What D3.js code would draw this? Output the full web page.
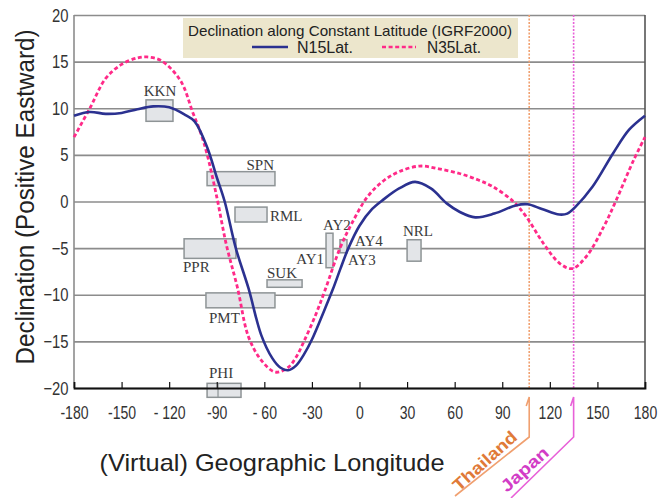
<!DOCTYPE html>
<html><head><meta charset="utf-8">
<script src="https://cdn.jsdelivr.net/npm/d3@7"></script>
<style>body{margin:0;background:#fff}svg{display:block}</style>
</head><body><svg id="c" width="658" height="498"></svg>
<script>
// ---------- data ----------
const xTicks = [-180,-150,-120,-90,-60,-30,0,30,60,90,120,150,180];
const xTickLabels = ["-180","-150","- 120","-90","- 60","-30","0","30","60","90","120","150","180"];
const yTicks = [-20,-15,-10,-5,0,5,10,15,20];

const n15Lon = [-180,-170,-160,-150,-140,-130,-120,-110,-104,-96,-90,-85,-78,-70,-62,-55,-50,-45,-40,-35,-30,-23,-17,-12,-7,0,8,15,25,35,45,55,63,73,85,99,106,115,126,131,136,147,160,170,180];
const n15Dec = [9.2,9.6,9.4,9.5,9.9,10.2,10.1,9.3,8.6,5.8,2.6,0,-5,-9.3,-14.3,-16.8,-17.8,-18.1,-17.6,-16.4,-14.8,-12,-9.5,-7.2,-5,-2.6,-0.8,0.2,1.4,2.1,1.4,-0.2,-1.1,-1.7,-1.3,-0.4,-0.3,-0.8,-1.4,-1.3,-0.6,1.6,5.2,7.7,9.2];

const n35Lon = [-180,-170,-160,-150,-140,-134,-125,-113,-105,-100,-96,-90,-84,-77,-70,-62,-53,-45,-40,-35,-28,-21.7,-12.3,-5,5,15,25,38,50,63,75,84,97,105,116,126,134,143,154,162,173,180];
const n35Dec = [6.9,10,13.2,14.7,15.4,15.5,15.1,13.0,9.5,7.3,5.0,0.5,-4.6,-9.2,-14.5,-17,-18.3,-17.8,-16.7,-15,-12.3,-9.5,-5,-2.4,0.5,2.2,3.2,3.8,3.5,3.0,2.3,1.6,0,-1.6,-4.5,-6.6,-7.2,-5.9,-2.7,0.2,4.5,6.9];

const stationNames = ["KKN","SPN","RML","PPR","SUK","PMT","PHI","AY2","AY4","NRL"];
const stationLonMin = [-134.6,-96.1,-78.5,-110.6,-58.3,-96.8,-96.1,-21.1,-12.3,30.0];
const stationLonMax = [-117.6,-53.3,-58.3,-77.9,-36.2,-53.3,-74.7,-16.7,-7.9,38.8];
const stationDecMin = [8.6,1.7,-2.2,-6.1,-9.2,-11.4,-21.0,-7.1,-5.5,-6.4];
const stationDecMax = [10.9,3.2,-0.6,-4.0,-8.4,-9.8,-19.5,-3.4,-4.1,-4.1];
const extraLabels = ["AY1","AY3"];

const markerNames = ["Thailand","Japan"];
const markerLon = [107,135];

// ---------- layout ----------
const svg = d3.select("#c");
const x = d3.scaleLinear().domain([-180,180]).range([74,645]);
const y = d3.scaleLinear().domain([-20,20]).range([388,15]);

svg.append("rect").attr("width",658).attr("height",498).attr("fill","#fff");

// gridlines
svg.append("g").attr("transform","translate(74,0)")
  .call(d3.axisLeft(y).tickValues(yTicks).tickSize(-571).tickFormat(""))
  .call(g=>g.select(".domain").remove())
  .call(g=>g.selectAll("line").attr("stroke","#8c8c8c").attr("stroke-width",1.6));

// legend background
svg.append("rect").attr("x",183).attr("y",18).attr("width",335).attr("height",40).attr("fill","#ece6cc");
svg.append("text").attr("x",350).attr("y",36).attr("text-anchor","middle")
  .attr("font-family","Liberation Sans, Arial, sans-serif").attr("font-size",15)
  .attr("textLength",324).attr("lengthAdjust","spacingAndGlyphs")
  .attr("fill","#222").text("Declination along Constant Latitude (IGRF2000)");
svg.append("line").attr("x1",252).attr("x2",288).attr("y1",47).attr("y2",47)
  .attr("stroke","#2b3190").attr("stroke-width",2.6);
svg.append("text").attr("x",297).attr("y",53).attr("font-family","Liberation Sans, Arial, sans-serif")
  .attr("font-size",16).attr("textLength",56).attr("lengthAdjust","spacingAndGlyphs").attr("fill","#222").text("N15Lat.");
svg.append("line").attr("x1",382).attr("x2",416).attr("y1",47).attr("y2",47)
  .attr("stroke","#ff2a88").attr("stroke-width",2.6).attr("stroke-dasharray","4,2.6");
svg.append("text").attr("x",427).attr("y",53).attr("font-family","Liberation Sans, Arial, sans-serif")
  .attr("font-size",16).attr("textLength",54).attr("lengthAdjust","spacingAndGlyphs").attr("fill","#222").text("N35Lat.");

// left axis (gray)
svg.append("line").attr("x1",74).attr("x2",74).attr("y1",15).attr("y2",388).attr("stroke","#8c8c8c").attr("stroke-width",1.6);
// right border
svg.append("line").attr("x1",645).attr("x2",645).attr("y1",15).attr("y2",389).attr("stroke","#555").attr("stroke-width",1.6);

// marker dashed lines
const markerColors = ["#f0a070","#e860d8"];
const markerText = ["#e07a38","#d23cc6"];
markerLon.forEach((lon,i)=>{
  svg.append("line").attr("x1",x(lon)).attr("x2",x(lon)).attr("y1",15).attr("y2",388)
    .attr("stroke",markerColors[i]).attr("stroke-width",1.6).attr("stroke-dasharray","2,1.5");
});

// station boxes
stationNames.forEach((n,i)=>{
  svg.append("rect").attr("x",x(stationLonMin[i])).attr("y",y(stationDecMax[i]))
    .attr("width",x(stationLonMax[i])-x(stationLonMin[i])).attr("height",y(stationDecMin[i])-y(stationDecMax[i]))
    .attr("fill","#e3e5e8").attr("stroke","#8e9496").attr("stroke-width",1.5);
});
// PHI inner divider
{
  const i = stationNames.indexOf("PHI");
  svg.append("line").attr("x1",x(-89.2)).attr("x2",x(-89.2)).attr("y1",y(stationDecMax[i])).attr("y2",y(stationDecMin[i]))
    .attr("stroke","#8e9496").attr("stroke-width",1.2);
}

// station labels (placement: pixel layout)
const labelPos = {
  KKN:[160,96,"middle"], SPN:[274,170,"end"], RML:[270,221,"start"], PPR:[183,272,"start"],
  SUK:[267,278,"start"], PMT:[209,323,"start"], PHI:[209,378,"start"], AY2:[323,230,"start"],
  AY4:[355,246,"start"], NRL:[403,236,"start"], AY1:[324,264,"end"], AY3:[348,265,"start"]
};
stationNames.concat(extraLabels).forEach(n=>{
  const p = labelPos[n];
  svg.append("text").attr("x",p[0]).attr("y",p[1]).attr("text-anchor",p[2])
    .attr("font-family","Liberation Serif, Times New Roman, serif").attr("font-size",15)
    .attr("fill","#3a3a3a").text(n);
});

// curves
const line = d3.line().x(d=>x(d[0])).y(d=>y(d[1])).curve(d3.curveCatmullRom.alpha(0.5));
svg.append("path").datum(n35Lon.map((l,i)=>[l,n35Dec[i]])).attr("d",line)
  .attr("fill","none").attr("stroke","#ff2a88").attr("stroke-width",2.8).attr("stroke-dasharray","4,2.6");
svg.append("path").datum(n15Lon.map((l,i)=>[l,n15Dec[i]])).attr("d",line)
  .attr("fill","none").attr("stroke","#2b3190").attr("stroke-width",2.6);

// bottom axis
const xa = svg.append("g").attr("transform","translate(0,388)")
  .call(d3.axisBottom(x).tickValues(xTicks).tickSize(-6).tickPadding(18).tickFormat((d,i)=>xTickLabels[i]));
xa.select(".domain").attr("stroke","#111").attr("stroke-width",1.8);
xa.selectAll(".tick line").attr("stroke","#111").attr("stroke-width",1.2)
  .filter(d=>d===-180||d===180).remove();
xa.selectAll("text").attr("font-family","Liberation Sans, Arial, sans-serif").attr("font-size",19)
  .attr("fill","#333").attr("transform","scale(0.74,1)");

// y labels
const ya = svg.append("g").attr("transform","translate(74,0)")
  .call(d3.axisLeft(y).tickValues(yTicks).tickSize(0).tickPadding(7));
ya.select(".domain").remove();
ya.selectAll("text").attr("font-family","Liberation Sans, Arial, sans-serif").attr("font-size",19)
  .attr("fill","#333").attr("transform","scale(0.78,1)");

// axis titles
svg.append("text").attr("transform","translate(34,197) rotate(-90)").attr("text-anchor","middle")
  .attr("font-family","Liberation Sans, Arial, sans-serif").attr("font-size",26)
  .attr("textLength",335).attr("lengthAdjust","spacingAndGlyphs").attr("fill","#222")
  .text("Declination  (Positive  Eastward)");
svg.append("text").attr("x",272).attr("y",471).attr("text-anchor","middle")
  .attr("font-family","Liberation Sans, Arial, sans-serif").attr("font-size",24)
  .attr("textLength",345).attr("lengthAdjust","spacingAndGlyphs").attr("fill","#222")
  .text("(Virtual)  Geographic  Longitude");

// marker leaders below the axis
const leaderEnd = [[455,496],[511,498]];
markerLon.forEach((lon,i)=>{
  const px = x(lon);
  svg.append("path").attr("d",`M${px-3},${406} L${px},${397} L${px},${437} L${leaderEnd[i][0]},${leaderEnd[i][1]}`)
    .attr("fill","none").attr("stroke",markerColors[i]).attr("stroke-width",1.6);
});
const markerLabelPos = [[459,492,80],[507,493,58]];
markerNames.forEach((n,i)=>{
  const p = markerLabelPos[i];
  svg.append("text").attr("transform",`translate(${p[0]},${p[1]}) rotate(-42)`)
    .attr("font-family","Liberation Sans, Arial, sans-serif").attr("font-weight","bold").attr("font-size",17)
    .attr("textLength",p[2]).attr("lengthAdjust","spacingAndGlyphs")
    .attr("fill",markerText[i]).text(n);
});
</script></body></html>
